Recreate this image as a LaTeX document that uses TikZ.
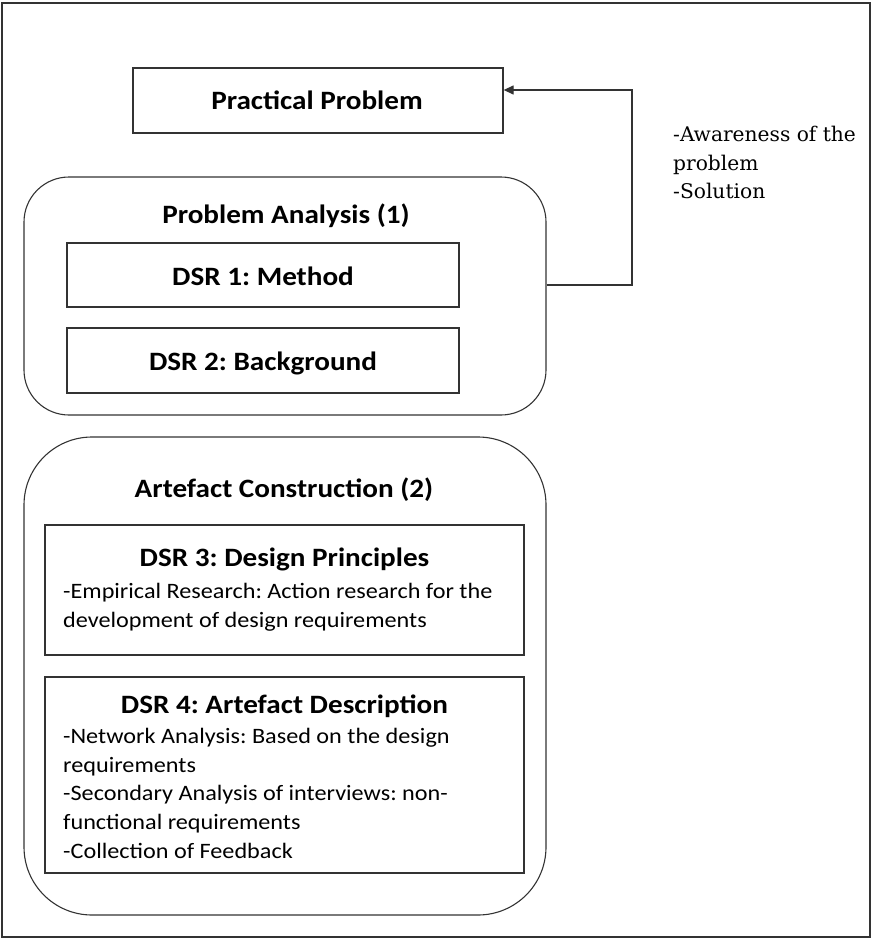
\documentclass[tikz,border=0pt]{standalone}
\usepackage{fontspec}
\setmainfont{Carlito}[FakeStretch=1.1]
\newfontfamily\notefont{DejaVu Serif}
\usetikzlibrary{arrows.meta}
\begin{document}
\frenchspacing
\begin{tikzpicture}[x=1pt,y=-1pt,
  edge/.style={draw=black!80, line width=1.3pt},
  box/.style={edge, rectangle, inner sep=0pt},
  group/.style={edge, rectangle, inner sep=0pt, line width=1.1pt},
  head/.style={font=\fontsize{26.5}{30}\selectfont\bfseries, inner sep=0pt, anchor=base},
  body/.style={font=\fontsize{22}{28}\selectfont, inner sep=0pt, anchor=base west},
  note/.style={font=\notefont\fontsize{20.2}{28}\selectfont, inner sep=0pt, anchor=base west}]
\useasboundingbox (0,0) rectangle (873,939);
% outer frame
\node[box, minimum width=868pt, minimum height=934pt] (frame) at (436,470) {};

% practical problem
\node[box, minimum width=370pt, minimum height=65pt] (pp) at (318,100.5) {};
\node[head] (ppt) at (317,110) {Practical Problem};

% problem analysis group
\node[group, rounded corners=45pt, minimum width=522pt, minimum height=238pt] (pa) at (285,296) {};
\node[head] (pat) at (286,223) {Problem Analysis (1)};
\node[box, minimum width=392pt, minimum height=64pt] (d1) at (263,275) {};
\node[head] (d1t) at (263,285) {DSR 1: Method};
\node[box, minimum width=392pt, minimum height=65pt] (d2) at (263,360.5) {};
\node[head] (d2t) at (263,370) {DSR 2: Background};

% feedback loop
\coordinate (turn) at (632,90);
\draw[edge, -{Triangle[length=10pt,width=9pt]}] ([yshift=11pt]pa.east) -| (turn) -- (pp.east |- turn);
\node[note] (n1) at (673,142) {-Awareness of the};
\node[note] (n2) at (673,170) {problem};
\node[note] (n3) at (673,198) {-Solution};

% artefact construction group
\node[group, rounded corners=68pt, minimum width=522pt, minimum height=478pt] (ac) at (285,676) {};
\node[head] (act) at (284,497) {Artefact Construction (2)};

\node[box, minimum width=479pt, minimum height=130pt] (d3) at (284.5,590) {};
\node[head] (d3t) at (284.5,566) {DSR 3: Design Principles};
\node[body] (d3a) at (63,598) {-Empirical Research: Action research for the};
\node[body] (d3b) at (63,627) {development of design requirements};

\node[box, minimum width=479pt, minimum height=196pt] (d4) at (284.5,775) {};
\node[head] (d4t) at (284.5,713) {DSR 4: Artefact Description};
\node[body] (d4a) at (63,743) {-Network Analysis: Based on the design};
\node[body] (d4b) at (63,772) {requirements};
\node[body] (d4c) at (63,800) {-Secondary Analysis of interviews: non-};
\node[body] (d4d) at (63,829) {functional requirements};
\node[body] (d4e) at (63,858) {-Collection of Feedback};
\end{tikzpicture}
\end{document}
